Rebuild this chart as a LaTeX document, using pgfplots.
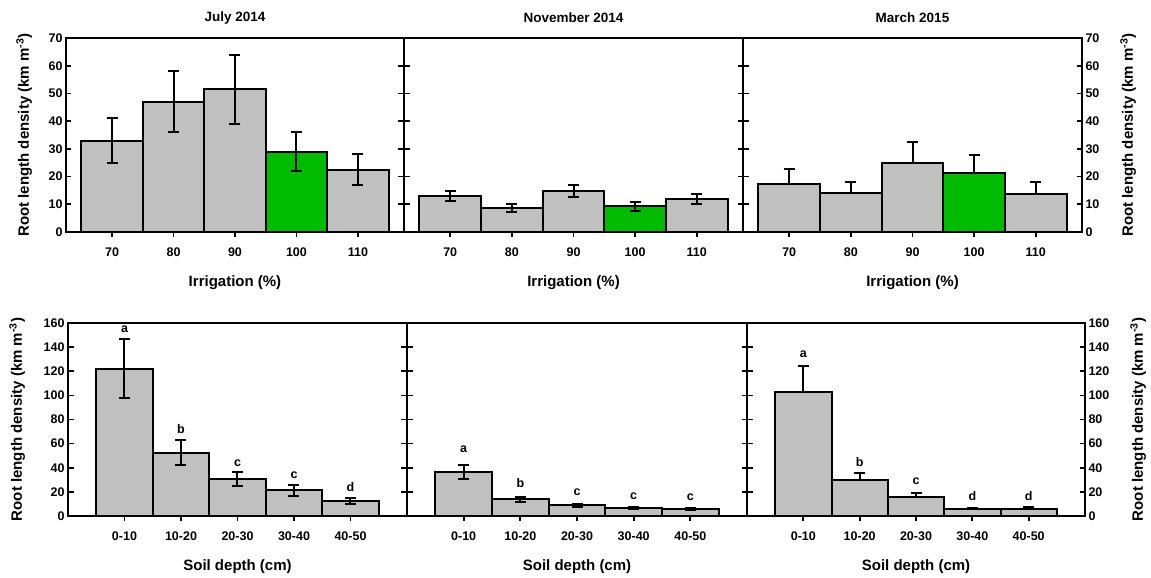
\documentclass[border=0pt]{standalone}
\usepackage{pgfplots}
\pgfplotsset{compat=1.18}
\usepackage{pgfplotstable}
\usepackage{fontspec}
\setmainfont{Liberation Sans}

\definecolor{bargray}{RGB}{192,192,192}
\definecolor{bargreen}{RGB}{0,187,0}

% irrigation panels (green = 100 %)
\pgfplotstableread{
x y e
70 33 8
80 47 11
90 51.5 12.5
110 22.5 5.5
}\julgray
\pgfplotstableread{
x y e
100 29 7
}\julgreen
\pgfplotstableread{
x y e
70 13 1.9
80 8.6 1.4
90 14.8 2.2
110 11.9 1.8
}\novgray
\pgfplotstableread{
x y e
100 9.2 1.5
}\novgreen
\pgfplotstableread{
x y e
70 17.3 5.3
80 14.0 4.1
90 24.8 7.6
110 13.7 4.3
}\margray
\pgfplotstableread{
x y e
100 21.3 6.4
}\margreen

% soil depth panels, ly = letter position
\pgfplotstableread{
x y e ly l
0 122 24.5 155 a
1 52.5 10.2 72 b
2 30.5 5.8 44 c
3 21.2 4.4 34 c
4 12.3 2.3 24 d
}\juldepth
\pgfplotstableread{
x y e ly l
0 36.5 5.5 55 a
1 13.9 2.1 27 b
2 8.9 1.3 19.6 c
3 6.6 1.0 16.6 c
4 5.8 1.0 16 c
}\novdepth
\pgfplotstableread{
x y e ly l
0 103 21.6 134 a
1 29.8 6.2 45 b
2 15.6 3.6 28.5 c
3 5.8 1.1 16.6 d
4 5.8 1.4 16.6 d
}\mardepth

\pgfplotsset{
  common/.style={
    scale only axis, clip=false,
    axis line style={line width=1.8pt},
    ytick align=inside, xtick align=outside,
    xtick pos=left, ytick pos=both,
    major tick length=5.5pt,
    major tick style={line width=1.7pt, black},
    tick label style={font=\fontsize{12.5}{14}\selectfont\bfseries},
    xticklabel style={yshift=-7pt},
    /pgf/number format/assume math mode=true,
    ymin=0,
    label style={font=\fontsize{15}{18}\selectfont\bfseries},
    title style={font=\fontsize{13.5}{16}\selectfont\bfseries,
      at={(axis description cs:0.5,1)}, anchor=center, yshift=14pt},
    xlabel style={at={(axis description cs:0.5,0)}, anchor=center, yshift=-51pt},
  },
  toprow/.style={common, height=194pt, ymax=70, ytick={0,10,...,70},
    xmin=62.5, xmax=117.5, xtick={70,80,90,100,110},
    xlabel={Irrigation (\%)}},
  botrow/.style={common, height=193pt, ymax=160, ytick={0,20,...,160},
    xmin=-1, xmax=5, xtick={0,...,4},
    xticklabels={0-10,10-20,20-30,30-40,40-50},
    xlabel={Soil depth (cm)}},
  bars/.style={ybar, bar width=#1, bar shift=0pt, draw=black, line width=2pt,
    error bars/y explicit,
    error bars/error bar style={line width=2pt, black},
    error bars/error mark options={rotate=90, mark size=5.5pt, line width=2pt, black}},
  letters/.style={only marks, mark=none, nodes near coords,
    point meta=explicit symbolic,
    nodes near coords style={font=\fontsize{12.5}{14}\selectfont\bfseries, anchor=center}},
}

\newcommand{\rld}{Root length density (km m\textsuperscript{-3})}

\begin{document}
\begin{tikzpicture}
\useasboundingbox (0,0) rectangle (1151pt,578pt);

% ---- top row ----
\begin{axis}[toprow, at={(66pt,346pt)}, anchor=south west, width=338pt,
  title={July 2014}, ylabel={\rld},
  ylabel style={at={(axis description cs:-0.124,0.5)}, anchor=center}]
\addplot[bars=10, fill=bargray, error bars/y dir=both] table[x=x, y=y, y error=e] {\julgray};
\addplot[bars=10, fill=bargreen, error bars/y dir=both] table[x=x, y=y, y error=e] {\julgreen};
\end{axis}

\begin{axis}[toprow, at={(404pt,346pt)}, anchor=south west, width=339pt,
  title={November 2014}, yticklabels={}]
\addplot[bars=10, fill=bargray, error bars/y dir=both] table[x=x, y=y, y error=e] {\novgray};
\addplot[bars=10, fill=bargreen, error bars/y dir=both] table[x=x, y=y, y error=e] {\novgreen};
\end{axis}

\begin{axis}[toprow, at={(743pt,346pt)}, anchor=south west, width=339pt,
  title={March 2015}, yticklabel pos=right, ytick pos=both, ylabel={\rld},
  ylabel style={at={(axis description cs:1.136,0.5)}, anchor=center}]
\addplot[bars=10, fill=bargray, error bars/y dir=plus] table[x=x, y=y, y error=e] {\margray};
\addplot[bars=10, fill=bargreen, error bars/y dir=plus] table[x=x, y=y, y error=e] {\margreen};
\end{axis}

% ---- bottom row ----
\begin{axis}[botrow, at={(68pt,62pt)}, anchor=south west, width=339pt,
  ylabel={\rld},
  ylabel style={at={(axis description cs:-0.150,0.5)}, anchor=center}]
\addplot[bars=1, fill=bargray, error bars/y dir=both] table[x=x, y=y, y error=e] {\juldepth};
\addplot[letters] table[x=x, y=ly, meta=l] {\juldepth};
\end{axis}

\begin{axis}[botrow, at={(407pt,62pt)}, anchor=south west, width=340pt,
  yticklabels={}]
\addplot[bars=1, fill=bargray, error bars/y dir=both] table[x=x, y=y, y error=e] {\novdepth};
\addplot[letters] table[x=x, y=ly, meta=l] {\novdepth};
\end{axis}

\begin{axis}[botrow, at={(747pt,62pt)}, anchor=south west, width=338pt,
  yticklabel pos=right, ytick pos=both, ylabel={\rld},
  ylabel style={at={(axis description cs:1.157,0.5)}, anchor=center}]
\addplot[bars=1, fill=bargray, error bars/y dir=plus] table[x=x, y=y, y error=e] {\mardepth};
\addplot[letters] table[x=x, y=ly, meta=l] {\mardepth};
\end{axis}
\end{tikzpicture}
\end{document}
